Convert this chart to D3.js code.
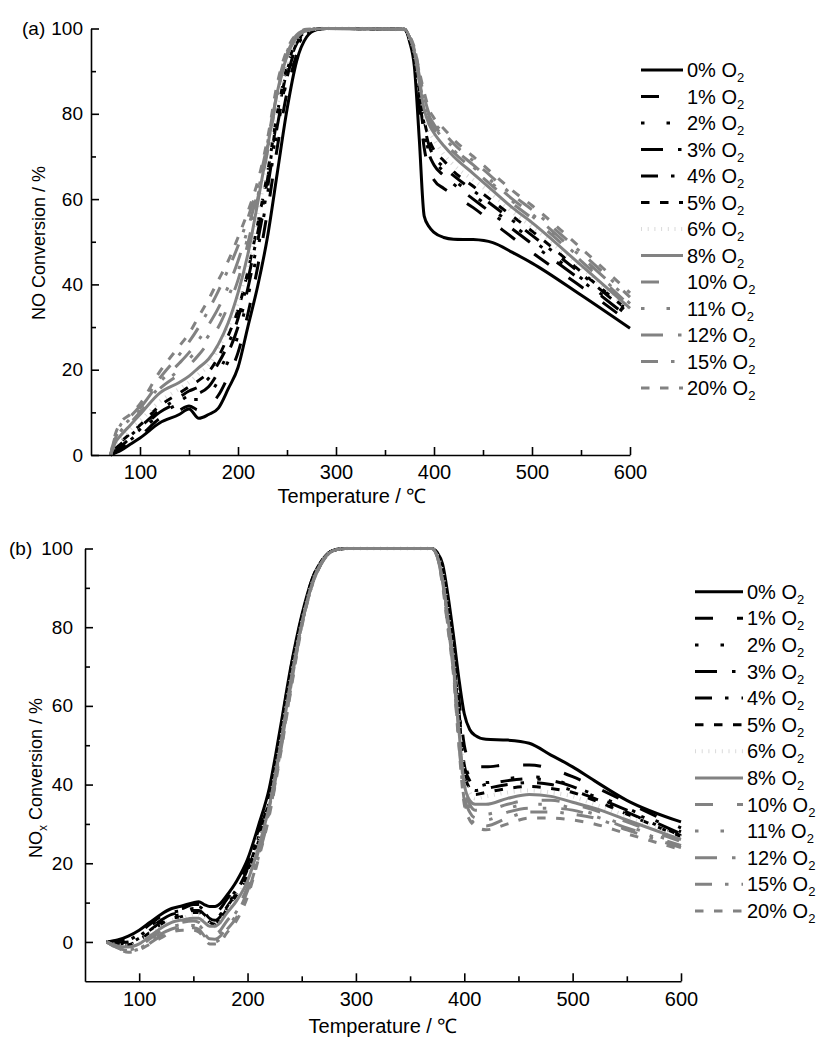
<!DOCTYPE html>
<html>
<head>
<meta charset="utf-8">
<script src="https://cdn.jsdelivr.net/npm/d3@7"></script>
<style>
body{margin:0;background:#fff}
svg{display:block}
</style>
</head>
<body>
<svg id="fig" width="819" height="1037"></svg>
<script>
// O2 concentrations (legend order)
var o2Labels=['0%','1%','2%','3%','4%','5%','6%','8%','10%','11%','12%','15%','20%']

// (a) NO conversion vs temperature
var tempA=[70,75,80,90,100,120,140,150,160,170,180,190,200,210,220,230,240,250,260,270,280,290,370,375,380,385,390,395,400,410,420,440,460,480,500,550,600]
var noConv=[
    [0,0.5,1,2.5,4,7.5,9.5,10.8,8.6,9.5,11,15.5,20.5,30,39.5,51,66,81,92.5,98,99.7,100,99.8,97,91,74,56,53.5,52.2,51,50.6,50.5,49.8,47.5,45,37.5,29.7],
    [0,0.8,1.5,3,4.5,8.5,10.5,11.5,10.5,11.5,14,18.5,24,33,44,57,72,85,94,98.5,99.8,100,99.8,97.5,93,82,72,67,64.5,62.5,61,58,54.5,51,47.5,39.5,31],
    [0,1,2,3.5,5.5,9.5,12,13,13,14,17.5,22,28,37,48,61,76,88,95.5,99,99.8,100,99.8,97.5,93.5,84,76,71,69,66.5,64.5,61,57.5,54,50.5,41.5,32.3],
    [0,1.5,2,4,6,10,12.5,14,14.5,16,19.5,24,30,39,50,62.5,77,88.5,96,99,99.8,100,99.8,97.5,93.5,84,75.5,70.5,68,65.5,63.5,60,56.5,53,49.5,41,32],
    [0,1.5,2.5,4.5,6.5,10.5,13.5,15,16,18,21.5,26,32,41,52,64.5,79,90,96.5,99.2,99.9,100,99.8,97.5,94,85,77.5,72.5,70,67.5,65.5,62,58.5,55,51.5,42.5,33],
    [0,2,3,5,7,11.5,14.5,16,17.5,19.5,23,28,34,43,54,66,80,91,97,99.3,99.9,100,99.8,97.8,94,86,78.5,74,71.5,69,66.5,63,59.5,56,52.5,43,33.5],
    [0,2.5,3.5,6,8,12.5,15.5,17,19,21,25,30,36,45,56.5,68.5,82,92,97.5,99.4,99.9,100,99.8,97.8,94.5,87,80,76,74,70.5,68,64.5,61,57,53.5,44,34],
    [0,3,4.5,7,9.5,14.5,17,18.5,20.5,22.5,26,31,38,47,59,72,85,93.5,98,99.5,99.9,100,99.8,98,94.5,87.5,81,77.5,75.5,72.5,70,66,62,58,54.5,44.5,34.4],
    [0,3.5,5,7.5,10,15.5,19,21,23.5,26.5,30,35,41,49.5,60,71,84.5,93.5,98,99.5,99.9,100,99.8,98,95,88,82,78.5,76.5,73.5,71,67,63,59,55.5,45.5,35],
    [0,3.5,5.5,8,10.5,16,20,22.5,25,28,32,37,43,51,60.5,71,84.5,93.5,98,99.5,99.9,100,99.8,98,95,88.5,82.5,79,77,74,71.5,67.5,63.5,59.5,56,46,35.5],
    [0,4,6,8.5,11,17,21.5,24,27,30.5,34.5,39.5,45.5,53,61.5,72,85,94,98.3,99.6,99.9,100,99.8,98,95,89,83,79.5,77.5,74.5,72,68,64,60,56.5,46.5,36.2],
    [0,4.5,7,9,11.5,18,23.5,26.5,30,34,38.5,43.5,49,55.5,63,73,86,94.5,98.5,99.7,99.9,100,99.8,98.2,95.5,89.5,84,80,78,75.5,73,69,65,61,57.5,47.5,37],
    [0,5,7.5,9.5,12,19.5,25.5,28.5,32.5,36.5,41,45.5,51,57,64,74,87,95,98.7,99.8,99.9,100,99.8,98.2,95.5,90,85,81,79,76.5,74,70,66,62,58.5,48.5,38]
]

// (b) NOx conversion vs temperature
var tempB=[70,80,90,100,110,120,130,140,150,155,160,165,170,175,180,190,200,210,220,230,240,250,260,270,280,290,370,375,380,385,390,395,400,405,410,420,440,460,480,500,520,550,600]
var noxConv=[
    [0,0.5,1.5,3,5,7,8.5,9.2,10,10.2,9.5,9,9,9.8,11.5,15.5,21,29.5,39,54,70,83,92.5,97.5,99.6,100,100,99,96,88,78,67,58,54,52.5,51.5,51.3,50.5,47.5,44.5,41,36,30.5],
    [0,0.3,1,2.5,4.5,6.5,8,8.5,9.5,9.5,8.5,7.5,7.5,8.5,10.5,14.5,20,28.5,38,53,69.5,82.5,92.5,97.5,99.6,100,100,98.5,95,86,75,62,50,46,44.5,44.5,45,45,44,42,39.5,35.5,29],
    [0,0,0.5,2,4,6,7.5,8,9,9,8,6.5,6,7,9.5,13.5,19,27.5,37,52,69,82,92,97.5,99.6,100,100,98.5,94.5,85.5,74,60,46,42,40.5,40.5,41.5,42,41.5,39.5,37.5,34,28],
    [0,-0.2,0,1.5,3.5,5.5,7,7.5,8.5,8.5,7.5,6,5.5,6.5,9,13,18.5,27,36.5,51.5,68.5,82,92,97.5,99.6,100,100,98.5,94.5,85,73.5,59,45,41,39.5,40,41,41.5,41,39.5,37,33.5,27.5],
    [0,-0.4,-0.3,1,3,5,6.5,7,8,8,7,5.5,5,6,8.5,12.5,18,26.5,36,51,68,81.5,91.5,97.5,99.6,100,100,98.5,94,84.5,73,58,44,40,38.5,39,40,40.5,40,38.5,36.5,33,27],
    [0,-0.6,-0.7,0.5,2.5,4.5,6,6.5,7.5,7.5,6.5,5,4.5,5.5,8,12,17,25.5,35.5,50.5,67.5,81.5,91.5,97.3,99.6,100,100,98.5,94,84,72.5,57,43,39,37.5,38,39,39.5,39,38,36,32.5,26.8],
    [0,-0.8,-1,0,2,4,5.5,6,7,7,6,4.5,4,5,7.5,11.5,16.5,25,35,50,67,81,91.5,97.3,99.6,100,100,98.3,93.5,83.5,72,56,42,38,36.5,37,38,38.5,38,37,35,32,26.5],
    [0,-1,-1.3,-0.5,1.5,3.5,5,5.6,6,6,5,4,4,5,7,10.5,15.5,24,34.5,49.5,66.5,81,91.5,97.3,99.6,100,100,98,92,82,71,54,40,36,35,35,36.5,37.5,37,35.5,34,31,26],
    [0,-1.2,-1.8,-1,0.8,2.8,4.3,5,5.3,5,3.5,2,2,3,5,8.5,14,23,34,49,66,80.5,91,97,99.5,100,100,98,92,81.5,70,53,39,35,33.5,33.5,35,36,36,35,33.5,30.5,25.5],
    [0,-1.3,-2,-1.3,0.3,2.3,3.8,4.5,4.7,4.3,2.8,1.3,1.3,2.3,4.3,7.8,13.5,22.5,33.5,48.5,65.5,80.5,91,97,99.5,100,100,98,91.5,81,69.5,52,38,34,32.5,32.5,34,35,35,34,32.5,29.5,25],
    [0,-1.4,-2.2,-1.6,0,2,3.3,4,4.2,3.8,2.2,0.8,0.7,1.5,3.5,7,13,22,33,48,65,80.5,91,97,99.5,100,100,98,91.5,80.5,69,51.5,37,33,31.5,31,33,34,34,33.5,32,29,24.5],
    [0,-1.5,-2.4,-1.8,-0.3,1.5,3,3.5,3.6,3.2,1.6,0.2,0,0.8,2.8,6.3,12.3,21.5,32.5,47.5,64.5,80.5,91,97,99.5,100,100,98,91,80,68.5,51,36,32,30,29.5,31.5,33,33,32.5,31.5,28.5,24],
    [0,-1.6,-2.6,-2,-0.5,1,2.5,3,3,2.5,1,-0.5,-0.5,0,2,5.5,11.5,21,32,47,64,80,91,97,99.5,100,100,98,90.5,79.5,68,50,35,31,29.5,28.5,30,31.5,31.5,31,30,27.5,23.5]
]

var xTicks=[100,200,300,400,500,600], xMinor=[150,250,350,450,550]
var yTicks=[0,20,40,60,80,100], yMinor=[10,30,50,70,90]

// line styles, same order as o2Labels
var BLK='#000', GRY='#828282'
var styles=[
    {c:BLK,d:null,w:3},
    {c:BLK,d:'18,24',w:3},
    {c:BLK,d:'3.5,22',w:3},
    {c:BLK,d:'22,15,3.5,15',w:3},
    {c:BLK,d:'17,13,3.5,13',w:3},
    {c:BLK,d:'8.5,10.5',w:3},
    {c:'#dadada',d:'1,5.7',w:4},
    {c:GRY,d:null,w:3},
    {c:GRY,d:'18,24',w:3},
    {c:GRY,d:'3.5,22',w:3},
    {c:GRY,d:'22,15,3.5,15',w:3},
    {c:GRY,d:'17,13,3.5,13',w:3},
    {c:GRY,d:'8.5,10.5',w:3}
]

var FONT='"Liberation Sans",Arial,Helvetica,sans-serif'
var svg=d3.select('#fig').attr('font-family',FONT)

var panels=[
    {id:'a',temps:tempA,data:noConv,x0:91,x1:630,y0:455,y1:28.5,yDom:[0,100],
     tag:'(a)',tagX:22,yTitle:['NO Conversion / %'],ytX:45,ytY:243,
     xtX:352,xtY:503,xPad:10,yPad:8,legX:641,legX2:683,legT:687,legY:70,legStep:26.5},
    {id:'b',temps:tempB,data:noxConv,x0:85,x1:681,y0:981.3,y1:548.5,yDom:[-10,100],
     tag:'(b)',tagX:9,yTitle:['NO','x',' Conversion / %'],ytX:42,ytY:778,
     xtX:383,xtY:1033,xPad:11,yPad:12,legX:695,legX2:743,legT:747,legY:591.7,legStep:26.6}
]

function styleAxis(g,fs)
{
    g.attr('font-family',FONT).attr('font-size',fs)
    g.selectAll('line').attr('stroke','#000').attr('stroke-width',1.6)
    g.selectAll('path').attr('stroke','#000').attr('stroke-width',1.6)
    g.selectAll('text').attr('fill','#000')
}

function drawPanel(p)
{
    var x=d3.scaleLinear().domain([50,600]).range([p.x0,p.x1]),
        y=d3.scaleLinear().domain(p.yDom).range([p.y0,p.y1])
    var g=svg.append('g').attr('id','panel-'+p.id)

    // curves
    var line=d3.line()
        .x(d=>x(d[0]))
        .y(d=>y(d[1]))
        .curve(d3.curveMonotoneX)
    var curves=g.append('g').attr('id','curves-'+p.id)
    for(let i=0;i<p.data.length;i++)
    {
        var pts=p.temps.map((t,j)=>[t,p.data[i][j]])
        curves.append('path')
            .datum(pts)
            .attr('d',line)
            .attr('fill','none')
            .attr('stroke',styles[i].c)
            .attr('stroke-width',styles[i].w)
            .attr('stroke-dasharray',styles[i].d)
            .attr('stroke-linejoin','round')
    }

    // axes (ticks point inward)
    var bx=g.append('g').attr('transform',`translate(0,${p.y0})`)
        .call(d3.axisBottom(x).tickValues(xTicks).tickSize(-8).tickSizeOuter(0).tickPadding(p.xPad))
    styleAxis(bx,20)
    var bxm=g.append('g').attr('transform',`translate(0,${p.y0})`)
        .call(d3.axisBottom(x).tickValues(xMinor).tickSize(-5).tickFormat(''))
    bxm.select('.domain').remove()
    styleAxis(bxm,20)

    var ly=g.append('g').attr('transform',`translate(${p.x0},0)`)
        .call(d3.axisLeft(y).tickValues(yTicks).tickSize(-8).tickSizeOuter(0).tickPadding(p.yPad))
    styleAxis(ly,19)
    var lym=g.append('g').attr('transform',`translate(${p.x0},0)`)
        .call(d3.axisLeft(y).tickValues(yMinor).tickSize(-5).tickFormat(''))
    lym.select('.domain').remove()
    styleAxis(lym,19)

    // panel tag next to the 100 label
    g.append('text')
        .attr('x',p.tagX)
        .attr('y',y(100))
        .attr('dy','0.32em')
        .attr('font-size',19)
        .text(p.tag)

    // axis titles
    g.append('text')
        .attr('x',p.xtX)
        .attr('y',p.xtY)
        .attr('text-anchor','middle')
        .attr('font-size',20)
        .text('Temperature / \u2103')
    var yt=g.append('text')
        .attr('transform',`translate(${p.ytX},${p.ytY}) rotate(-90)`)
        .attr('text-anchor','middle')
        .attr('font-size',18)
    if(p.yTitle.length==1) yt.text(p.yTitle[0])
    else
    {
        yt.append('tspan').text(p.yTitle[0])
        yt.append('tspan').attr('font-size',12).attr('dy',5).text(p.yTitle[1])
        yt.append('tspan').attr('dy',-5).text(p.yTitle[2])
    }

    // legend
    var lg=g.append('g').attr('id','legend-'+p.id)
    for(let i=0;i<o2Labels.length;i++)
    {
        var cy=p.legY+i*p.legStep
        lg.append('line')
            .attr('x1',p.legX).attr('x2',p.legX2)
            .attr('y1',cy).attr('y2',cy)
            .attr('stroke',styles[i].c)
            .attr('stroke-width',styles[i].w)
            .attr('stroke-dasharray',styles[i].d)
        var t=lg.append('text')
            .attr('x',p.legT)
            .attr('y',cy+7)
            .attr('font-size',20)
        t.append('tspan').text(o2Labels[i]+' O')
        t.append('tspan').attr('font-size',13).attr('dy',5).text('2')
    }
}

panels.forEach(drawPanel)
</script>
</body>
</html>
